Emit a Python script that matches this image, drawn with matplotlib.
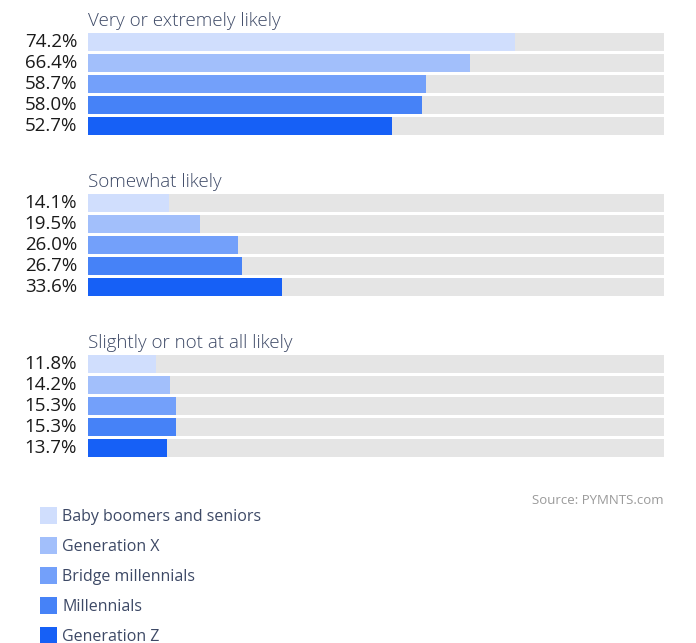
import matplotlib
matplotlib.use("Agg")
import matplotlib.pyplot as plt
import matplotlib.patches as mpatches

# ── Data ────────────────────────────────────────────────────────────────────
generations = ["Baby boomers and seniors", "Generation X", "Bridge millennials",
               "Millennials", "Generation Z"]
groups = ["Very or extremely likely", "Somewhat likely", "Slightly or not at all likely"]
very_likely = [74.2, 66.4, 58.7, 58.0, 52.7]
somewhat_likely = [14.1, 19.5, 26.0, 26.7, 33.6]
not_likely = [11.8, 14.2, 15.3, 15.3, 13.7]
values = [very_likely, somewhat_likely, not_likely]

# ── Style ───────────────────────────────────────────────────────────────────
COLORS = ["#d0defd", "#a2bffb", "#73a0fa", "#4682f7", "#1660f6"]
TRACK = "#e5e5e5"
TITLE = "#3d4966"
LABEL = "#1a1a1a"
SRC = "#9a9a9a"
FONT = ["Open Sans", "DejaVu Sans"]

W, H = 696, 643
fig = plt.figure(figsize=(W / 100, H / 100), dpi=100, facecolor="white")


def fx(px):
    return px / W


def fy(py):
    return 1 - py / H


X0, X1 = 88, 664
tops = [31, 192, 353]
block_h = 106

for top, title, vals in zip(tops, groups, values):
    ax = fig.add_axes([fx(X0), fy(top + block_h), fx(X1) - fx(X0), block_h / H])
    ypos = list(range(len(vals)))
    ax.barh(ypos, [100] * len(vals), height=0.85, color=TRACK, zorder=1)
    ax.barh(ypos, vals, height=0.85, color=COLORS, zorder=2)
    ax.set_xlim(0, 100)
    ax.set_ylim(len(vals) - 0.5, -0.5)
    ax.axis("off")
    for y, v in zip(ypos, vals):
        ax.text(-0.019, y, f"{v:.1f}%", transform=ax.get_yaxis_transform(),
                ha="right", va="center", fontsize=13.5, color=LABEL, family=FONT)
    fig.text(fx(X0), fy(top - 10), title, ha="left", va="center",
             fontsize=13.5, color=TITLE, family=FONT, fontweight="light")

# Source note
fig.text(fx(664), fy(501), "Source: PYMNTS.com", ha="right", va="center",
         fontsize=9.5, color=SRC, family=FONT)

# Legend
for i, (name, col) in enumerate(zip(generations, COLORS)):
    ytop = 507 + 30 * i
    fig.add_artist(mpatches.Rectangle((fx(40), fy(ytop + 17)), 17 / W, 17 / H,
                                      transform=fig.transFigure, color=col, lw=0))
    fig.text(fx(62), fy(ytop + 10), name, ha="left", va="center",
             fontsize=11.5, color=TITLE, family=FONT)

fig.savefig("out.png", dpi=100, facecolor="white")
plt.close(fig)
